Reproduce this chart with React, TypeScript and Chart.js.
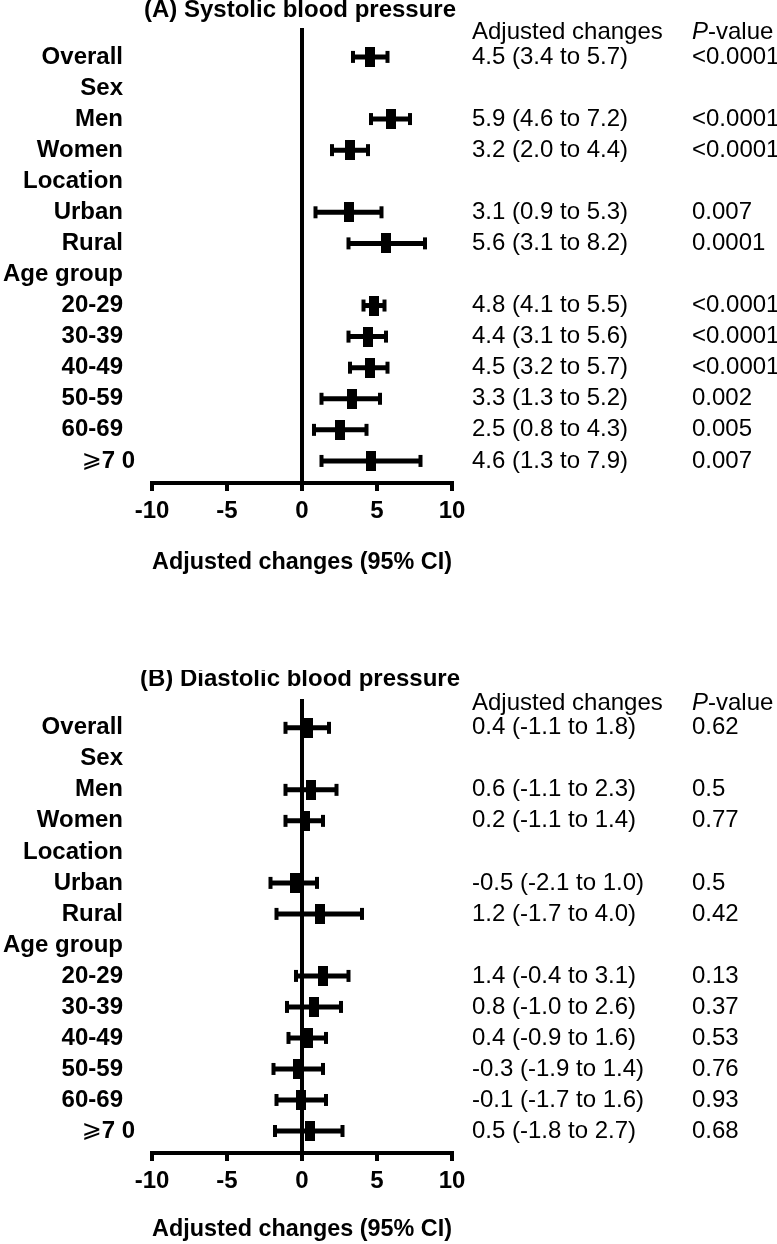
import React, { useEffect, useRef } from 'react';
import { Chart, registerables } from 'chart.js';

Chart.register(...registerables);

const FONT = '"Liberation Sans", Arial, Helvetica, sans-serif';

const rowLabels = ['Overall', 'Sex', 'Men', 'Women', 'Location', 'Urban', 'Rural', 'Age group', '20-29', '30-39', '40-49', '50-59', '60-69', '⩾7 0'];
const xTickValues = [-10, -5, 0, 5, 10];

const sbpEstimate = [4.5, null, 5.9, 3.2, null, 3.1, 5.6, null, 4.8, 4.4, 4.5, 3.3, 2.5, 4.6];
const sbpLower = [3.4, null, 4.6, 2.0, null, 0.9, 3.1, null, 4.1, 3.1, 3.2, 1.3, 0.8, 1.3];
const sbpUpper = [5.7, null, 7.2, 4.4, null, 5.3, 8.2, null, 5.5, 5.6, 5.7, 5.2, 4.3, 7.9];
const sbpP = ['<0.0001', '', '<0.0001', '<0.0001', '', '0.007', '0.0001', '', '<0.0001', '<0.0001', '<0.0001', '0.002', '0.005', '0.007'];

const dbpEstimate = [0.4, null, 0.6, 0.2, null, -0.5, 1.2, null, 1.4, 0.8, 0.4, -0.3, -0.1, 0.5];
const dbpLower = [-1.1, null, -1.1, -1.1, null, -2.1, -1.7, null, -0.4, -1.0, -0.9, -1.9, -1.7, -1.8];
const dbpUpper = [1.8, null, 2.3, 1.4, null, 1.0, 4.0, null, 3.1, 2.6, 1.6, 1.4, 1.6, 2.7];
const dbpP = ['0.62', '', '0.5', '0.77', '', '0.5', '0.42', '', '0.13', '0.37', '0.53', '0.76', '0.93', '0.68'];

const CANVAS_W = 777;
const AXIS_Y = 483;

type Panel = {
  title: string;
  est: (number | null)[];
  lo: (number | null)[];
  hi: (number | null)[];
  p: string[];
  titleY: number;
  top: number;
  height: number;
};

const panels: Panel[] = [
  { title: '(A) Systolic blood pressure', est: sbpEstimate, lo: sbpLower, hi: sbpUpper, p: sbpP, titleY: 10, top: 28, height: 577 },
  { title: '(B) Diastolic blood pressure', est: dbpEstimate, lo: dbpLower, hi: dbpUpper, p: dbpP, titleY: 9, top: 29, height: 574 },
];

function makeMarker(): HTMLCanvasElement {
  const c = document.createElement('canvas');
  c.width = 10;
  c.height = 20;
  const g = c.getContext('2d')!;
  g.fillStyle = '#000';
  g.fillRect(0, 0, 10, 20);
  return c;
}

function fmt(v: number) {
  return v.toFixed(1);
}

function ForestPanel({ panel, offsetTop }: { panel: Panel; offsetTop: number }) {
  const ref = useRef<HTMLCanvasElement | null>(null);
  useEffect(() => {
    const canvas = ref.current;
    if (!canvas) return;
    const marker = makeMarker();
    const datasets: any[] = [];
    datasets.push({
      type: 'scatter',
      label: 'estimate',
      order: 0,
      data: panel.est
        .map((v, i) => (v === null ? null : { x: v, y: i }))
        .filter((d) => d !== null),
      pointStyle: marker,
      pointRadius: 10,
      showLine: false,
    });
    panel.lo.forEach((lo, i) => {
      const hi = panel.hi[i];
      if (lo === null || hi === null) return;
      datasets.push({
        type: 'line',
        label: 'ci' + i,
        order: 1,
        data: [
          { x: lo, y: i },
          { x: hi, y: i },
        ],
        borderColor: '#000',
        borderWidth: 5,
        pointStyle: 'line',
        pointRotation: 90,
        pointRadius: 6,
        pointBorderWidth: 4,
        pointBorderColor: '#000',
        pointBackgroundColor: '#000',
        fill: false,
      });
    });

    const textPlugin = {
      id: 'forestText',
      afterDraw(chart: any) {
        const ctx = chart.ctx as CanvasRenderingContext2D;
        const ys = chart.scales.y;
        ctx.save();
        ctx.fillStyle = '#000';
        ctx.textBaseline = 'middle';
        ctx.font = `bold 24px ${FONT}`;
        ctx.textAlign = 'center';
        ctx.fillText(panel.title, 300, panel.titleY);
        ctx.textAlign = 'right';
        rowLabels.forEach((lab, i) => {
          const py = ys.getPixelForValue(i);
          if (lab.startsWith('⩾')) {
            const rest = lab.slice(1);
            ctx.font = `bold 24px ${FONT}`;
            ctx.fillText(rest, 135, py);
            const w = ctx.measureText(rest).width;
            ctx.font = `24px "DejaVu Sans", "Noto Sans CJK SC", sans-serif`;
            ctx.fillText('⩾', 135 - w, py);
          } else {
            ctx.font = `bold 24px ${FONT}`;
            ctx.fillText(lab, 123, py);
          }
        });
        const hy = ys.getPixelForValue(-0.8);
        ctx.textAlign = 'left';
        ctx.font = `24px ${FONT}`;
        ctx.fillText('Adjusted changes', 472, hy);
        ctx.font = `italic 24px ${FONT}`;
        ctx.fillText('P', 692, hy);
        const pw = ctx.measureText('P').width;
        ctx.font = `24px ${FONT}`;
        ctx.fillText('-value', 692 + pw, hy);
        panel.est.forEach((v, i) => {
          const lo = panel.lo[i];
          const hi = panel.hi[i];
          if (v === null || lo === null || hi === null) return;
          const py = ys.getPixelForValue(i);
          ctx.fillText(`${fmt(v)} (${fmt(lo)} to ${fmt(hi)})`, 472, py);
          ctx.fillText(panel.p[i], 692, py);
        });
        ctx.restore();
      },
    };

    const chart = new Chart(canvas, {
      type: 'scatter',
      data: { datasets },
      options: {
        responsive: false,
        animation: false,
        events: [],
        layout: { padding: { left: 152, right: CANVAS_W - 452, top: panel.top, bottom: 0 } },
        plugins: { legend: { display: false }, tooltip: { enabled: false }, title: { display: false } },
        scales: {
          x: {
            type: 'linear',
            min: -10,
            max: 10,
            afterBuildTicks: (scale: any) => {
              scale.ticks = xTickValues.map((v) => ({ value: v }));
            },
            afterFit: (scale: any) => {
              scale.height = panel.height - AXIS_Y;
            },
            border: { display: true, color: '#000', width: 4 },
            grid: {
              display: true,
              drawOnChartArea: true,
              drawTicks: true,
              tickLength: 8,
              tickWidth: 4,
              tickColor: '#000',
              lineWidth: 4,
              color: (c: any) => (c.tick && c.tick.value === 0 ? '#000' : 'rgba(0,0,0,0)'),
            },
            ticks: {
              color: '#000',
              padding: 6,
              font: { family: FONT, size: 24, weight: 'bold' },
            },
            title: {
              display: true,
              text: 'Adjusted changes (95% CI)',
              color: '#000',
              font: { family: FONT, size: 24, weight: 'bold' },
              padding: { top: 0, bottom: 0 },
            },
          },
          y: {
            type: 'linear',
            display: false,
            reverse: true,
            min: -0.93,
            max: 13.71,
          },
        },
      } as any,
      plugins: [textPlugin],
    });
    return () => chart.destroy();
  }, [panel]);
  return (
    <canvas
      ref={ref}
      width={CANVAS_W}
      height={panel.height}
      style={{ position: 'absolute', left: 0, top: offsetTop, width: CANVAS_W, height: panel.height, display: 'block' }}
    />
  );
}

export default function App() {
  return (
    <div style={{ position: 'absolute', left: 0, top: 0, width: 777, height: 1244, background: '#fff' }}>
      <ForestPanel panel={panels[0]} offsetTop={0} />
      <ForestPanel panel={panels[1]} offsetTop={670} />
    </div>
  );
}
